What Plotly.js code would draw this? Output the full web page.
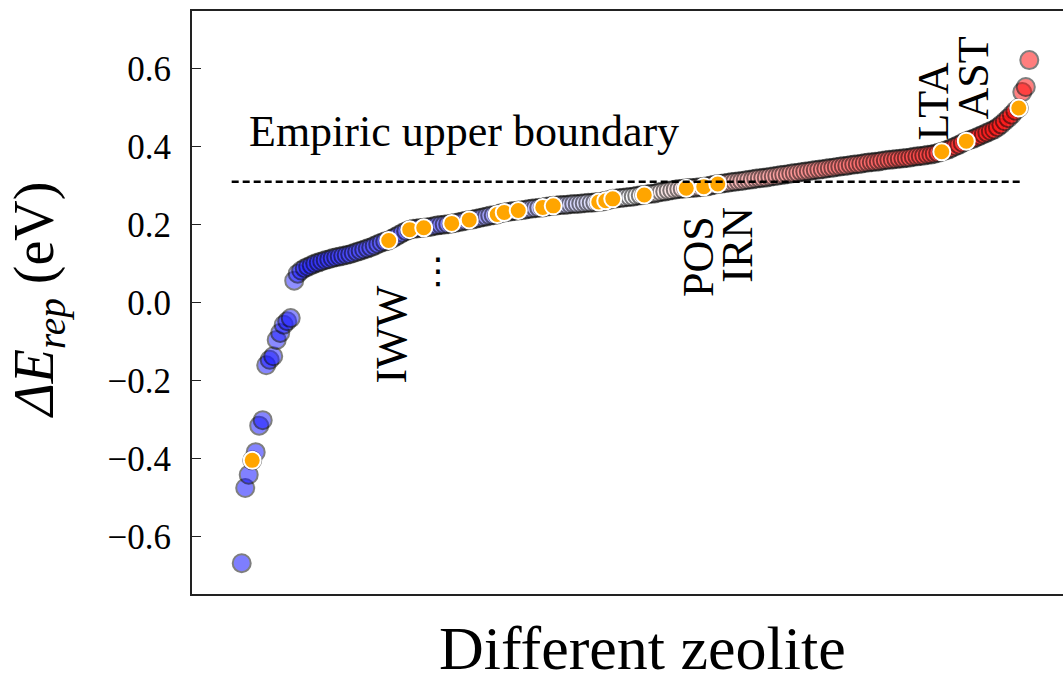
<!DOCTYPE html>
<html>
<head>
<meta charset="utf-8">
<script src="https://cdn.plot.ly/plotly-3.0.1.min.js"></script>
<style>
html,body{margin:0;padding:0;overflow:hidden;background:#fff;}
#chart{width:1093px;height:679px;}
</style>
</head>
<body>
<div id="chart"></div>
<script>
// Sorted ΔE_rep values (eV), one per zeolite framework
const deltaE = [
 -0.669, -0.476, -0.442, -0.405, -0.384, -0.316, -0.302, -0.161, -0.147, -0.138,
 -0.096, -0.078, -0.057, -0.048, -0.040, 0.056, 0.074, 0.082, 0.088, 0.092,
 0.096, 0.100, 0.103, 0.106, 0.109, 0.111, 0.114, 0.116, 0.118, 0.120,
 0.122, 0.124, 0.127, 0.130, 0.133, 0.136, 0.139, 0.142, 0.146, 0.150,
 0.154, 0.157, 0.159, 0.164, 0.169, 0.174, 0.179, 0.183, 0.187, 0.189,
 0.190, 0.191, 0.192, 0.193, 0.194, 0.196, 0.198, 0.199, 0.200, 0.201,
 0.203, 0.204, 0.206, 0.208, 0.210, 0.212, 0.213, 0.215, 0.217, 0.219,
 0.221, 0.223, 0.224, 0.226, 0.229, 0.231, 0.232, 0.234, 0.235, 0.236,
 0.237, 0.238, 0.240, 0.241, 0.242, 0.243, 0.244, 0.246, 0.247, 0.248,
 0.249, 0.250, 0.250, 0.251, 0.252, 0.253, 0.253, 0.254, 0.255, 0.256,
 0.256, 0.257, 0.258, 0.259, 0.261, 0.263, 0.266, 0.267, 0.268, 0.269,
 0.270, 0.271, 0.272, 0.274, 0.275, 0.276, 0.278, 0.279, 0.280, 0.282,
 0.284, 0.285, 0.287, 0.288, 0.290, 0.291, 0.292, 0.293, 0.294, 0.294,
 0.295, 0.296, 0.297, 0.298, 0.300, 0.302, 0.304, 0.305, 0.306, 0.307,
 0.309, 0.310, 0.311, 0.312, 0.314, 0.315, 0.316, 0.318, 0.319, 0.320,
 0.321, 0.323, 0.324, 0.325, 0.327, 0.328, 0.329, 0.331, 0.332, 0.333,
 0.335, 0.336, 0.337, 0.339, 0.340, 0.341, 0.342, 0.344, 0.345, 0.346,
 0.348, 0.349, 0.350, 0.351, 0.353, 0.354, 0.355, 0.356, 0.358, 0.359,
 0.360, 0.361, 0.362, 0.364, 0.365, 0.366, 0.367, 0.368, 0.369, 0.370,
 0.371, 0.372, 0.374, 0.375, 0.376, 0.377, 0.379, 0.380, 0.382, 0.384,
 0.387, 0.390, 0.393, 0.397, 0.401, 0.405, 0.410, 0.414, 0.417, 0.420,
 0.424, 0.428, 0.432, 0.436, 0.440, 0.444, 0.450, 0.457, 0.465, 0.473,
 0.482, 0.492, 0.499, 0.540, 0.553, 0.622
];
// Positions (rank index) of the highlighted frameworks
const highlightIdx = [3, 42, 48, 52, 60, 65, 73, 75, 79, 86, 89, 102, 104, 106, 115, 127, 132, 136, 200, 207, 222];
// Labelled frameworks
const labelNames = ["IWW", "POS", "IRN", "LTA", "AST"];
const boundaryValue = 0.31;
const yTicks = [-0.6, -0.4, -0.2, 0.0, 0.2, 0.4, 0.6];

const rank = deltaE.map((_, i) => i);
const hx = highlightIdx;
const hy = highlightIdx.map(i => deltaE[i]);

const serif = "Liberation Serif, Times New Roman, serif";

const traces = [
  {
    x: rank, y: deltaE, type: "scatter", mode: "markers",
    marker: {
      size: 18, color: rank, cmin: 0, cmax: deltaE.length - 1,
      colorscale: [[0, "rgb(0,0,255)"], [0.5, "rgb(255,255,255)"], [1, "rgb(255,0,0)"]],
      opacity: 0.5, line: {color: "rgb(0,0,0)", width: 2}
    },
    hoverinfo: "skip", showlegend: false
  },
  {
    x: hx, y: hy, type: "scatter", mode: "markers",
    marker: {size: 17, color: "#FFA500", line: {color: "#ffffff", width: 2}},
    hoverinfo: "skip", showlegend: false
  }
];

function rot(text, x, y) {
  return {text: text, x: x, y: y, xref: "paper", yref: "paper", showarrow: false,
          textangle: -90, xanchor: "center", yanchor: "middle",
          font: {family: serif, size: 44, color: "#000"}};
}

const layout = {
  width: 1093, height: 679,
  margin: {l: 192, r: 0, t: 11, b: 85},
  paper_bgcolor: "#fff", plot_bgcolor: "#fff",
  xaxis: {
    range: [-14.2, 243.2], showgrid: false, zeroline: false,
    showticklabels: false, ticks: "",
    showline: true, linecolor: "#222", linewidth: 2, mirror: true
  },
  yaxis: {
    range: [-0.748, 0.748], showgrid: false, zeroline: false,
    tickvals: yTicks, tickformat: ".1f",
    ticks: "inside", ticklen: 9, tickwidth: 1.5, tickcolor: "#222",
    ticklabelstandoff: 12,
    tickfont: {family: serif, size: 35, color: "#000"},
    showline: true, linecolor: "#222", linewidth: 2, mirror: true
  },
  shapes: [
    {type: "line", xref: "x", yref: "y", x0: -2.86, x1: 223.3, y0: boundaryValue, y1: boundaryValue,
     line: {color: "#000", width: 2.5, dash: "7px,4px"}}
  ],
  annotations: [
    {text: "Empiric upper boundary", x: 0.061, y: 0.794, xref: "paper", yref: "paper",
     showarrow: false, xanchor: "left", yanchor: "middle",
     font: {family: serif, size: 44, color: "#000"}},
    rot(labelNames[0], 0.2225, 0.446),
    rot(labelNames[1], 0.5616, 0.578),
    rot(labelNames[2], 0.6054, 0.600),
    rot(labelNames[3], 0.823, 0.844),
    rot(labelNames[4], 0.8668, 0.886),
    {text: "⋮", x: 0.2734, y: 0.5557, xref: "paper", yref: "paper", showarrow: false,
     xanchor: "center", yanchor: "middle", font: {family: "DejaVu Sans", size: 36, color: "#000"}},
    {text: "Different zeolite", x: 0.5, y: -0.0926, xref: "paper", yref: "paper",
     showarrow: false, xanchor: "center", yanchor: "middle",
     font: {family: serif, size: 62, color: "#000"}},
    {text: "<i>ΔE</i><sub><i>rep</i></sub> (eV)", x: -0.171, y: 0.504, xref: "paper", yref: "paper",
     showarrow: false, textangle: -90, xanchor: "center", yanchor: "middle",
     font: {family: serif, size: 56, color: "#000"}}
  ]
};

Plotly.newPlot("chart", traces, layout, {displayModeBar: false, staticPlot: true});
</script>
</body>
</html>
